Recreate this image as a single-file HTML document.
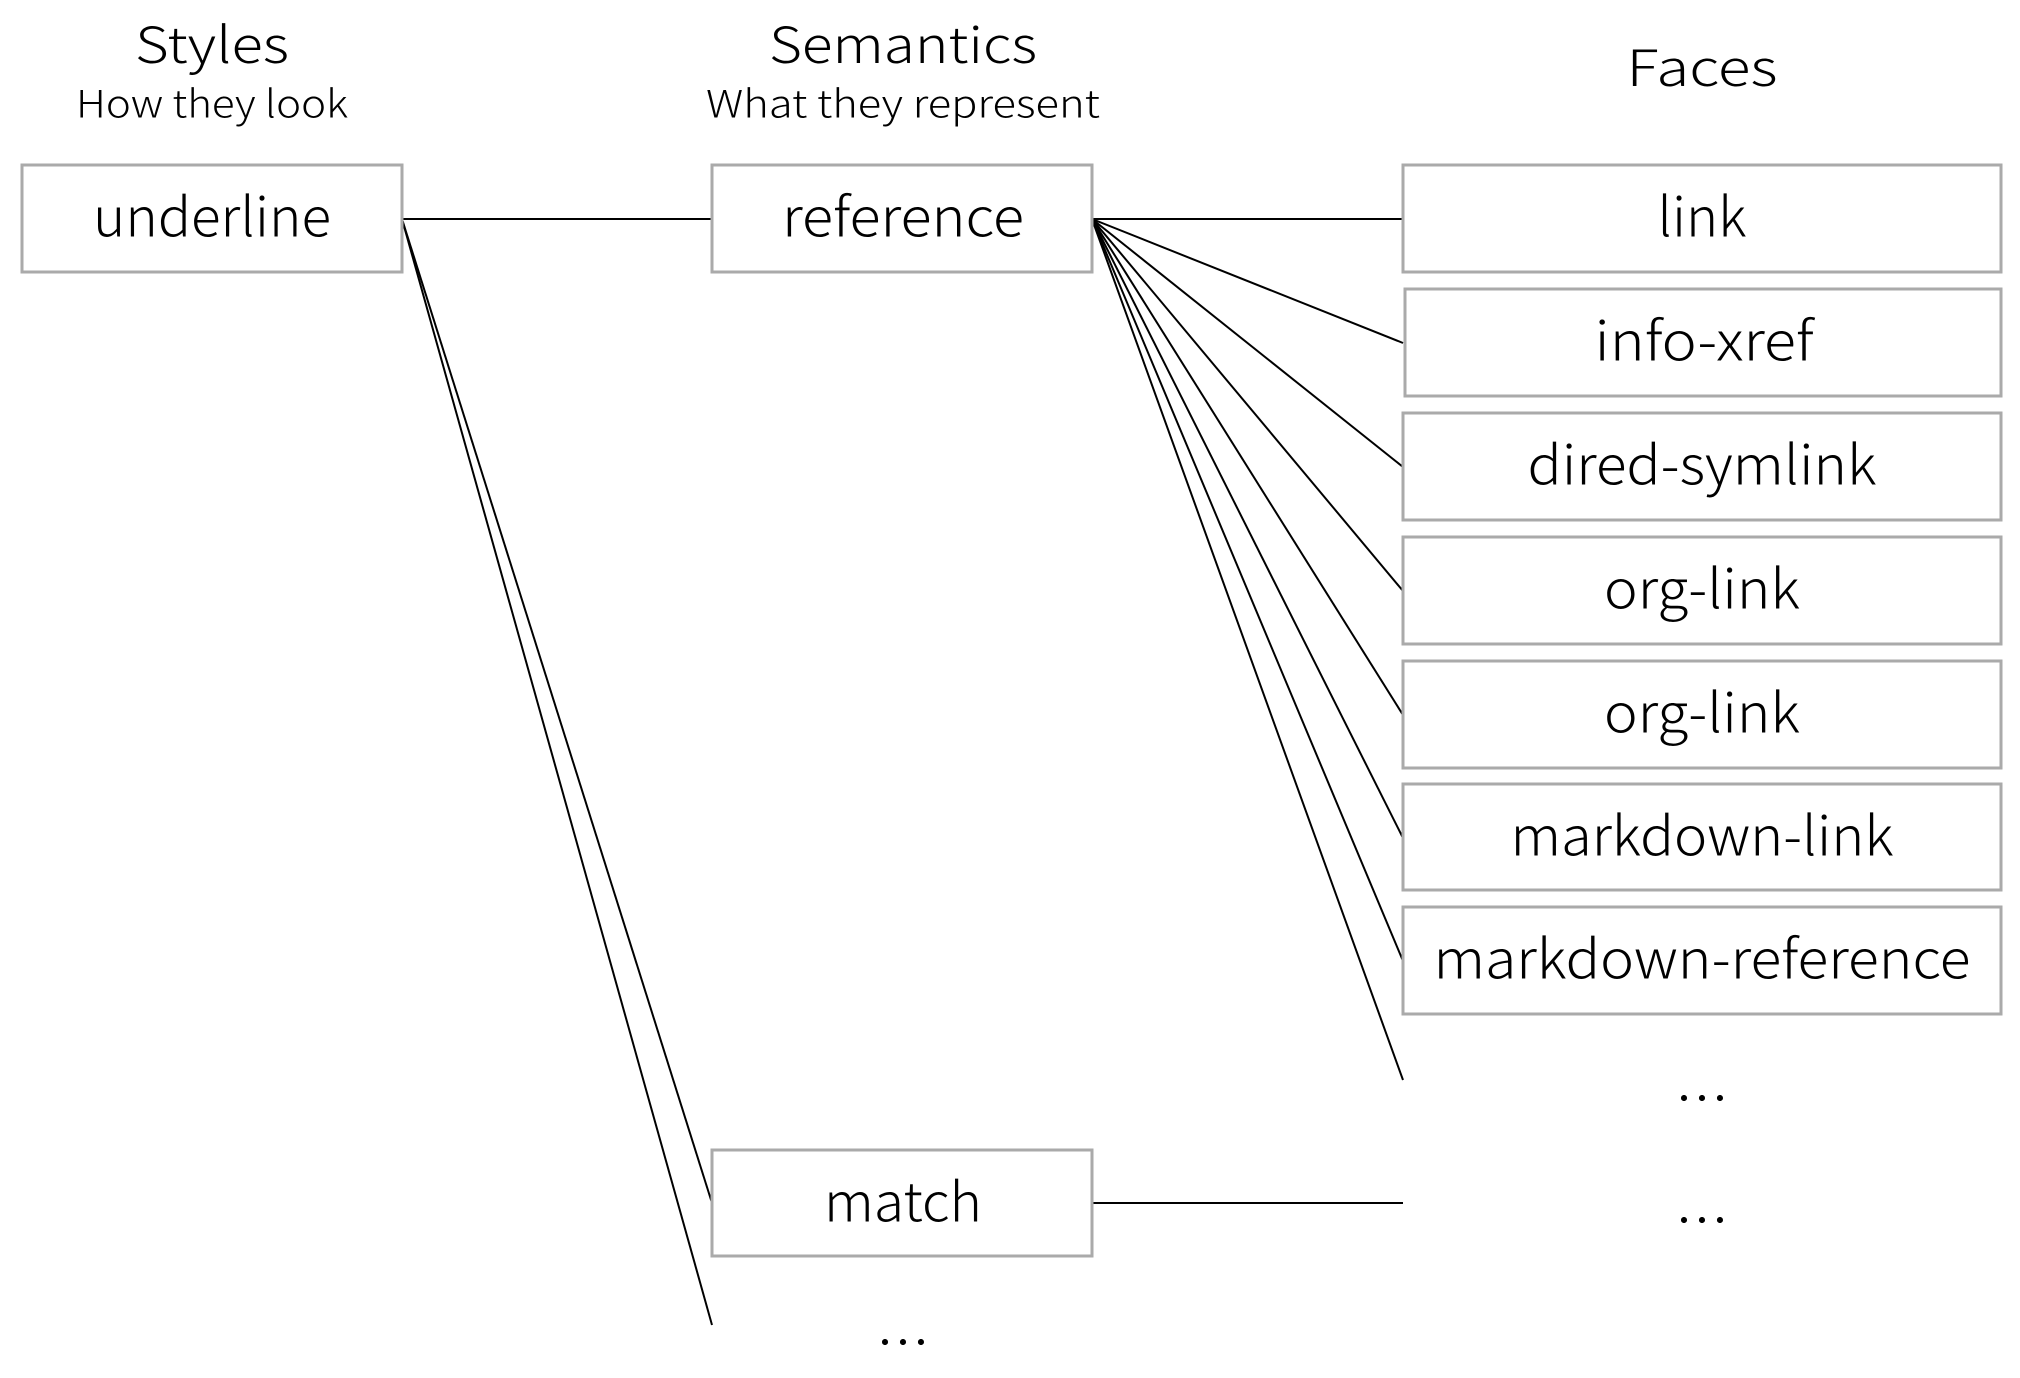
<!DOCTYPE html>
<html><head><meta charset="utf-8"><style>html,body{margin:0;padding:0;background:#fff}svg{display:block}</style></head>
<body>
<svg width="2020" height="1378" viewBox="0 0 2020 1378" xmlns="http://www.w3.org/2000/svg" font-family="'Noto Sans CJK JP','Liberation Sans',sans-serif" font-weight="300" fill="#000">
<g stroke="#000" stroke-width="2" fill="none">
<line x1="402" y1="219" x2="712" y2="219"/>
<line x1="402" y1="219" x2="712" y2="1203"/>
<line x1="402" y1="219" x2="712" y2="1325"/>
<line x1="1092" y1="219" x2="1403" y2="219"/>
<line x1="1092" y1="219" x2="1403" y2="343"/>
<line x1="1092" y1="219" x2="1403" y2="467"/>
<line x1="1092" y1="219" x2="1403" y2="591"/>
<line x1="1092" y1="219" x2="1403" y2="715"/>
<line x1="1092" y1="219" x2="1403" y2="838"/>
<line x1="1092" y1="219" x2="1403" y2="961"/>
<line x1="1092" y1="219" x2="1403" y2="1080"/>
<line x1="1092" y1="1203" x2="1403" y2="1203"/>
</g>
<g stroke="#aaa" stroke-width="3" fill="#fff">
<rect x="22" y="165" width="380" height="107"/>
<rect x="712" y="165" width="380" height="107"/>
<rect x="712" y="1150" width="380" height="106"/>
<rect x="1403" y="165" width="598" height="107"/>
<rect x="1405" y="289" width="596" height="107"/>
<rect x="1403" y="413" width="598" height="107"/>
<rect x="1403" y="537" width="598" height="107"/>
<rect x="1403" y="661" width="598" height="107"/>
<rect x="1403" y="784" width="598" height="106"/>
<rect x="1403" y="907" width="598" height="107"/>
</g>
<g font-size="54" text-anchor="middle" dominant-baseline="central">
<text x="212" y="213" textLength="238" lengthAdjust="spacingAndGlyphs">underline</text>
<text x="903" y="213" textLength="242" lengthAdjust="spacingAndGlyphs">reference</text>
<text x="903" y="1198" textLength="158" lengthAdjust="spacingAndGlyphs">match</text>
<text x="1702" y="213" textLength="89" lengthAdjust="spacingAndGlyphs">link</text>
<text x="1704" y="337" textLength="219" lengthAdjust="spacingAndGlyphs">info-xref</text>
<text x="1702" y="461" textLength="349" lengthAdjust="spacingAndGlyphs">dired-symlink</text>
<text x="1702" y="585" textLength="196" lengthAdjust="spacingAndGlyphs">org-link</text>
<text x="1702" y="709" textLength="196" lengthAdjust="spacingAndGlyphs">org-link</text>
<text x="1702" y="832" textLength="383" lengthAdjust="spacingAndGlyphs">markdown-link</text>
<text x="1702" y="955" textLength="537" lengthAdjust="spacingAndGlyphs">markdown-reference</text>
<text x="1702" y="1095">…</text>
<text x="1702" y="1217">…</text>
<text x="903" y="1339">…</text>
</g>
<g text-anchor="middle" dominant-baseline="central">
<text x="212" y="42" font-size="50" textLength="154" lengthAdjust="spacingAndGlyphs">Styles</text>
<text x="212" y="101" font-size="38" textLength="272" lengthAdjust="spacingAndGlyphs">How they look</text>
<text x="903" y="42" font-size="50" textLength="268" lengthAdjust="spacingAndGlyphs">Semantics</text>
<text x="903" y="101" font-size="38" textLength="394" lengthAdjust="spacingAndGlyphs">What they represent</text>
<text x="1702" y="65" font-size="50" textLength="151" lengthAdjust="spacingAndGlyphs">Faces</text>
</g>
</svg>
</body></html>
